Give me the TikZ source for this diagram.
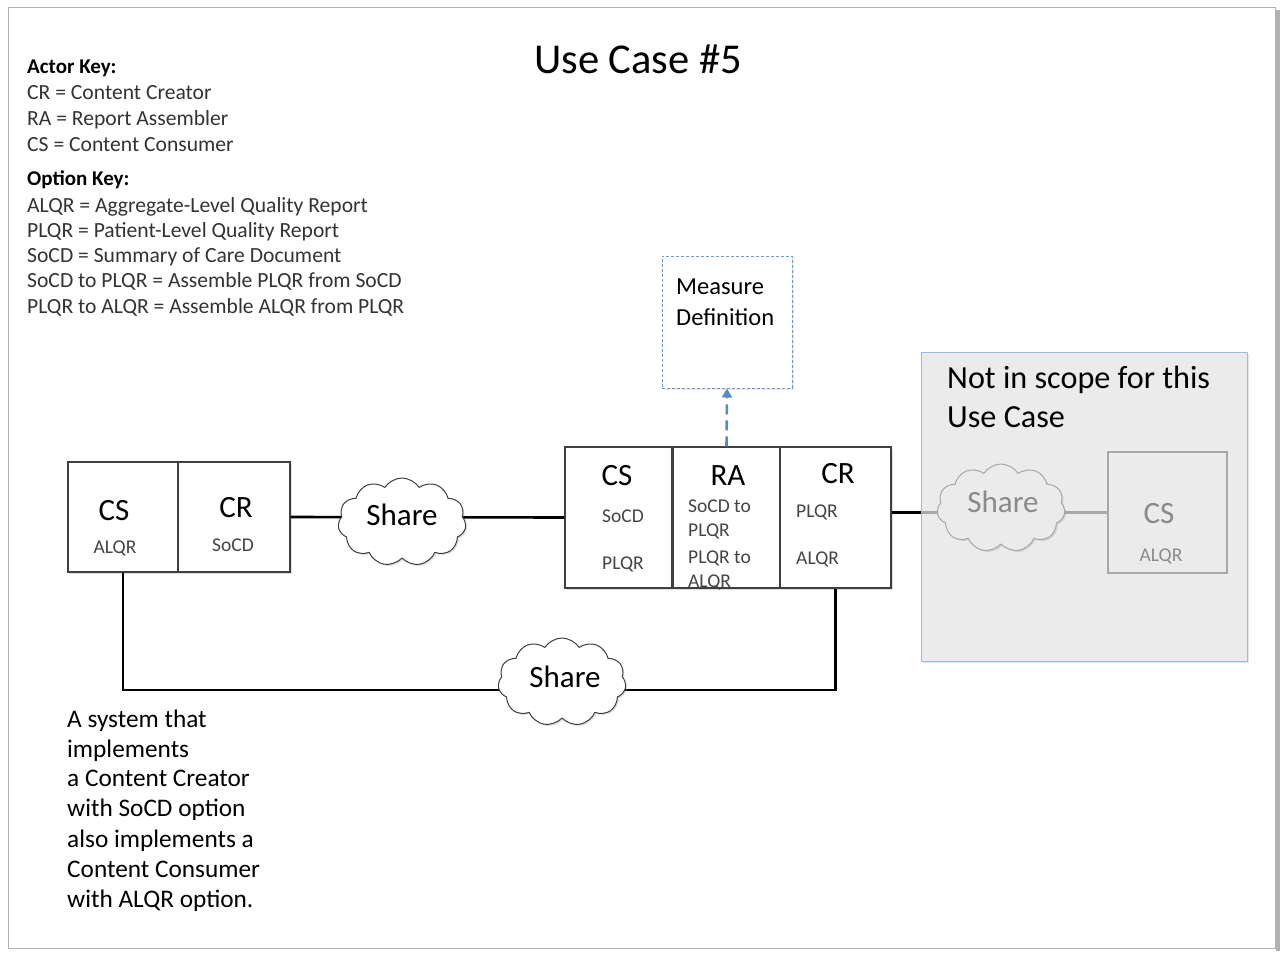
\documentclass[tikz,border=0pt]{standalone}
\usepackage{fontspec}
\setmainfont{Carlito}
\usetikzlibrary{shapes.symbols,shadows,arrows.meta}
\definecolor{keytxt}{HTML}{333333}
\definecolor{smalltxt}{HTML}{444444}
\definecolor{boxline}{HTML}{3F3F3F}
\definecolor{mdblue}{HTML}{6C9BD2}
\definecolor{arrblue}{HTML}{5A8AC6}
\definecolor{scopefill}{HTML}{EBEBEB}
\definecolor{scopeline}{HTML}{9FBBE0}
\definecolor{ghost}{HTML}{8A8A8A}
\definecolor{ghostline}{HTML}{A8A8A8}
\newcommand\fsz[2]{\fontsize{#1}{#2}\selectfont}
\begin{document}
\begin{tikzpicture}[x=1pt,y=-1pt,
  actorbox/.style={draw=boxline, line width=1.1pt, fill=white, inner sep=0pt,
    drop shadow={shadow xshift=1.5pt, shadow yshift=-1.5pt, opacity=0.25}},
  ghostbox/.style={draw=ghostline, line width=1.1pt, fill=scopefill, inner sep=0pt},
  sharecloud/.style={cloud, cloud puffs=11, cloud puff arc=115, aspect=1.45,
    draw=boxline, line width=1pt, fill=white, inner sep=0pt,
    minimum width=128pt, minimum height=88pt,
    drop shadow={shadow xshift=1.5pt, shadow yshift=-1.5pt, opacity=0.25}},
  conn/.style={line width=2.6pt, black},
  keyline/.style={anchor=base west, inner sep=0pt, text=keytxt, font=\fsz{21.6}{25}},
  keyhead/.style={anchor=base west, inner sep=0pt, text=black, font=\fsz{21}{25}\bfseries},
  biglbl/.style={anchor=base, inner sep=0pt, font=\fsz{31}{37}},
  smallc/.style={anchor=base, inner sep=0pt, text=smalltxt, font=\fsz{19.5}{24}},
  smallw/.style={anchor=base west, inner sep=0pt, text=smalltxt, font=\fsz{19.5}{24}},
  notetxt/.style={anchor=base west, inner sep=0pt, font=\fsz{25.3}{30}},
]
\useasboundingbox (0,0) rectangle (1282,953);
% page frame
\fill[black!30] (1275.5,10) rectangle (1280,951);
\draw[black!30, line width=0.8pt] (8,7) rectangle (1275,948);

% title
\node[anchor=base, inner sep=0pt, font=\fsz{42.5}{50}] (title) at (638,73) {Use Case \#5};

% keys
\node[keyhead] (k0) at (27,73) {Actor Key:};
\node[keyline] (k1) at (27,99) {CR = Content Creator};
\node[keyline] (k2) at (27,125) {RA = Report Assembler};
\node[keyline] (k3) at (27,151) {CS = Content Consumer};
\node[keyhead] (k4) at (27,185) {Option Key:};
\node[keyline] (k5) at (27,212) {ALQR = Aggregate-Level Quality Report};
\node[keyline] (k6) at (27,237) {PLQR = Patient-Level Quality Report};
\node[keyline] (k7) at (27,262) {SoCD = Summary of Care Document};
\node[keyline] (k8) at (27,287) {SoCD to PLQR = Assemble PLQR from SoCD};
\node[keyline] (k9) at (27,313) {PLQR to ALQR = Assemble ALQR from PLQR};

% out-of-scope region
\node[draw=scopeline, fill=scopefill, line width=1pt, minimum width=326pt, minimum height=309pt, inner sep=0pt,
  drop shadow={shadow xshift=1.5pt, shadow yshift=-1.5pt, opacity=0.2}] (scope) at (1084,506.5) {};
\node[anchor=base west, inner sep=0pt, font=\fsz{32.2}{38}] (sc1) at (947,388) {Not in scope for this};
\node[anchor=base west, inner sep=0pt, font=\fsz{32.2}{38}] (sc2) at (947,427) {Use Case};

% actor boxes
\node[actorbox, minimum width=110pt, minimum height=110pt] (csl) at (123,517) {};
\node[actorbox, minimum width=112pt, minimum height=110pt] (crl) at (234,517) {};
\node[actorbox, minimum width=107pt, minimum height=141pt] (csm) at (618.5,517.5) {};
\node[actorbox, minimum width=107pt, minimum height=141pt] (ra) at (726.5,517.5) {};
\node[actorbox, minimum width=111pt, minimum height=141pt] (crm) at (835.5,517.5) {};
\node[ghostbox, minimum width=119pt, minimum height=121pt] (gcs) at (1167.5,512.5) {};

% measure definition
\node[draw=mdblue, densely dashed, line width=1pt, fill=white, minimum width=130pt, minimum height=132pt, inner sep=0pt,
  drop shadow={shadow xshift=1.5pt, shadow yshift=-1.5pt, opacity=0.15}] (md) at (727,322) {};
\node[anchor=base west, inner sep=0pt, font=\fsz{24.5}{30}] (md1) at (676,294) {Measure};
\node[anchor=base west, inner sep=0pt, font=\fsz{24.5}{30}] (md2) at (676,325) {Definition};
\draw[arrblue, line width=2.6pt, dash pattern=on 10pt off 6pt, -{Triangle[length=9pt,width=10pt]}]
  (ra.north) -- (md.south);

% connectors
\coordinate (busy) at (0,690);
\draw[conn] (crl.east) -- (csm.west);
\draw[conn] (csl.south) -- (csl.south |- busy) -- (crm.south |- busy) -- (crm.south);
\draw[conn] (crm.east |- gcs.west) -- (scope.west |- gcs.west);
\draw[ghostline, line width=2.6pt] (scope.west |- gcs.west) -- (gcs.west);

% clouds
\node[sharecloud] (cloud1) at (402,522) {};
\node[sharecloud] (cloud3) at (562,682) {};
\node[sharecloud, draw=ghostline, fill=scopefill, drop shadow={opacity=0}] (cloud2) at (1001,508) {};
\node[biglbl] (s1) at (402,525) {Share};
\node[biglbl] (s3) at (565,687) {Share};
\node[biglbl, text=ghost] (s2) at (1003,512) {Share};

% box labels
\node[biglbl] (csl1) at (114,520) {CS};
\node[smallc] (csl2) at (115,553) {ALQR};
\node[biglbl] (crl1) at (236,517) {CR};
\node[smallc] (crl2) at (233,551) {SoCD};

\node[biglbl] (csm1) at (617,485) {CS};
\node[smallc] (csm2) at (623,522) {SoCD};
\node[smallc] (csm3) at (623,569) {PLQR};

\node[biglbl] (ra1) at (728,485) {RA};
\node[smallw] (ra2) at (688,512) {SoCD to};
\node[smallw] (ra3) at (688,536) {PLQR};
\node[smallw] (ra4) at (688,563) {PLQR to};
\node[smallw] (ra5) at (688,587) {ALQR};

\node[biglbl] (crm1) at (838,483) {CR};
\node[smallw] (crm2) at (796,517) {PLQR};
\node[smallw] (crm3) at (796,564) {ALQR};

\node[biglbl, text=ghost] (gcs1) at (1159,523) {CS};
\node[smallc, text=ghost] (gcs2) at (1161,561) {ALQR};

% note
\node[notetxt] (n1) at (67,727) {A system that};
\node[notetxt] (n2) at (67,757) {implements};
\node[notetxt] (n3) at (67,786) {a Content Creator};
\node[notetxt] (n4) at (67,816) {with SoCD option};
\node[notetxt] (n5) at (67,847) {also implements a};
\node[notetxt] (n6) at (67,877) {Content Consumer};
\node[notetxt] (n7) at (67,907) {with ALQR option.};
\end{tikzpicture}
\end{document}
